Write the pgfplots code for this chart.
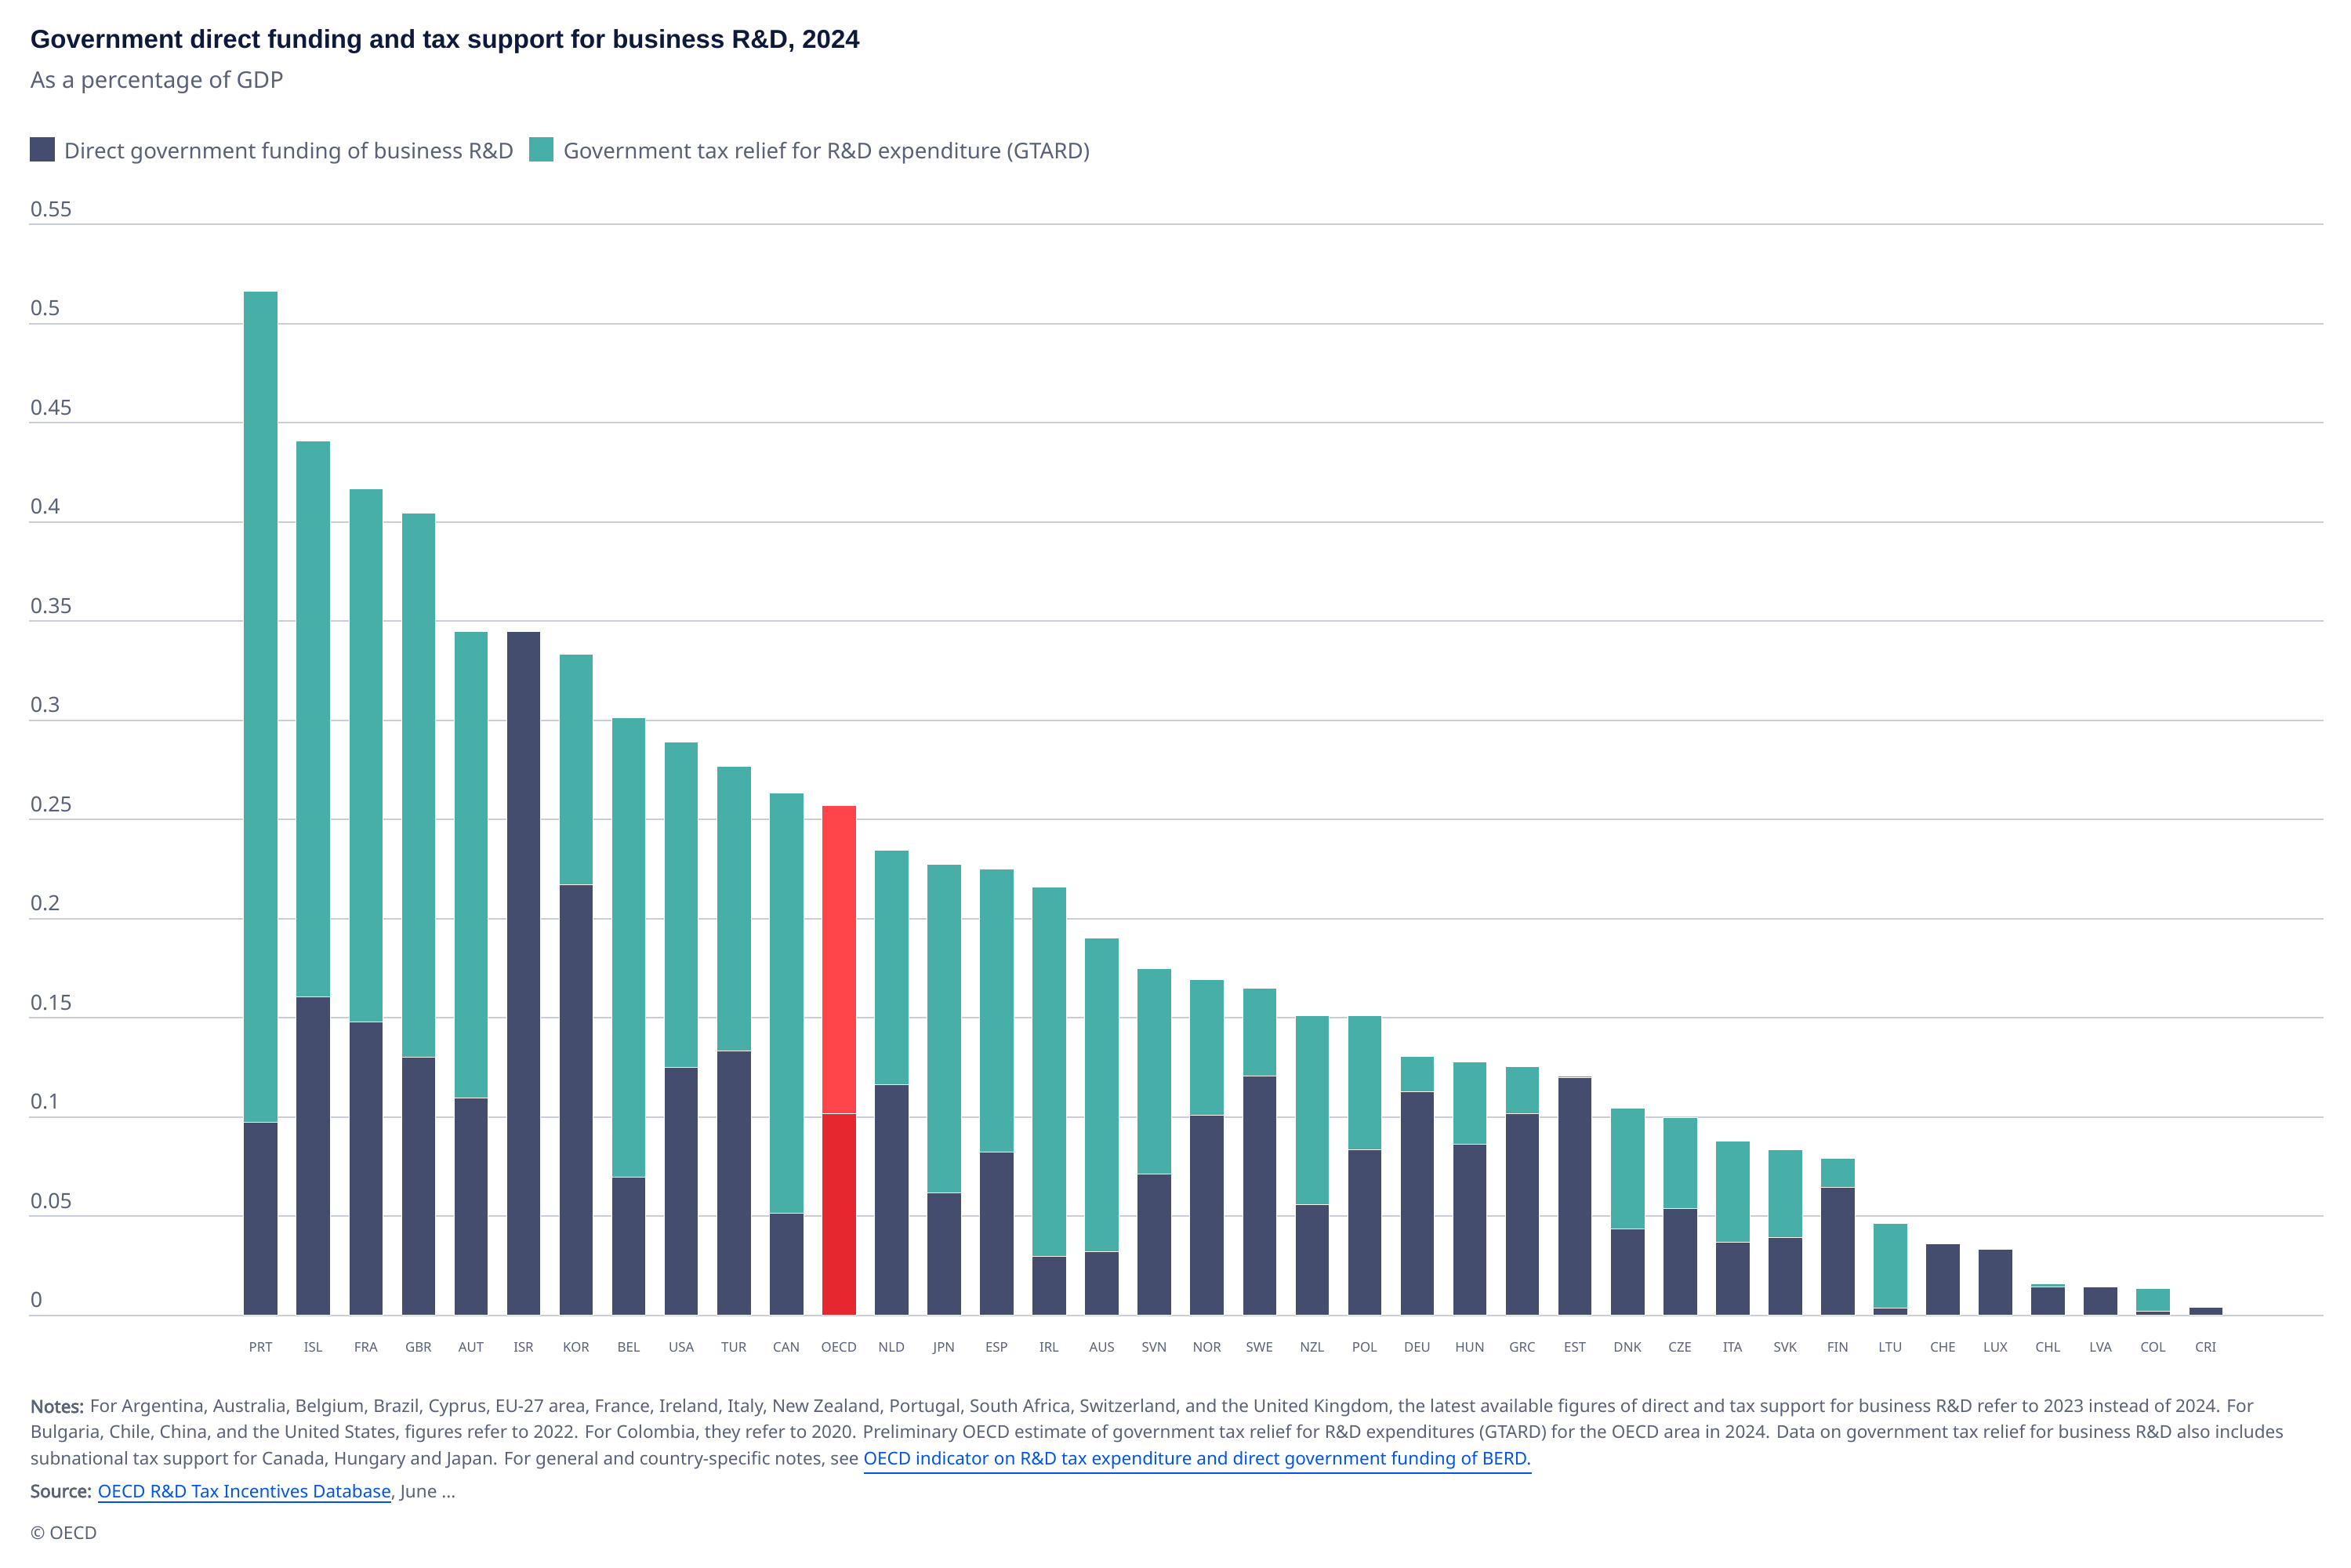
\documentclass[border=0pt]{standalone}
\usepackage{fontspec}
\setmainfont{Noto Sans}[BoldFont={Noto Sans}, BoldFeatures={FakeBold=3}]
\newfontfamily\titlefont{Liberation Sans}
\usepackage{pgfplots}
\usepackage{pgfplotstable}
\pgfplotsset{compat=1.18}
\definecolor{dirc}{HTML}{444D6E}
\definecolor{taxc}{HTML}{47AFA7}
\definecolor{oecdd}{HTML}{E5282F}
\definecolor{oecdt}{HTML}{FF444A}
\definecolor{gridc}{HTML}{C9CED9}
\definecolor{txtc}{HTML}{586179}
\definecolor{titc}{HTML}{0E1A3C}
\definecolor{linkc}{HTML}{0055E6}
\pgfplotstableread{
x lab dir tax od ot
0 PRT 0.0974 0.4190 0 0
1 ISL 0.1605 0.2802 0 0
2 FRA 0.1480 0.2687 0 0
3 GBR 0.1300 0.2743 0 0
4 AUT 0.1096 0.2353 0 0
5 ISR 0.3449 0.0000 0 0
6 KOR 0.2173 0.1159 0 0
7 BEL 0.0698 0.2316 0 0
8 USA 0.1249 0.1640 0 0
9 TUR 0.1335 0.1432 0 0
10 CAN 0.0516 0.2119 0 0
11 OECD 0 0 0.1017 0.1555
12 NLD 0.1163 0.1182 0 0
13 JPN 0.0618 0.1654 0 0
14 ESP 0.0823 0.1429 0 0
15 IRL 0.0300 0.1859 0 0
16 AUS 0.0321 0.1581 0 0
17 SVN 0.0712 0.1037 0 0
18 NOR 0.1011 0.0681 0 0
19 SWE 0.1206 0.0442 0 0
20 NZL 0.0560 0.0950 0 0
21 POL 0.0835 0.0675 0 0
22 DEU 0.1127 0.0180 0 0
23 HUN 0.0865 0.0413 0 0
24 GRC 0.1017 0.0239 0 0
25 EST 0.1199 0.0008 0 0
26 DNK 0.0436 0.0609 0 0
27 CZE 0.0539 0.0457 0 0
28 ITA 0.0370 0.0508 0 0
29 SVK 0.0393 0.0442 0 0
30 FIN 0.0647 0.0144 0 0
31 LTU 0.0037 0.0427 0 0
32 CHE 0.0362 0 0 0
33 LUX 0.0333 0 0 0
34 CHL 0.0146 0.0013 0 0
35 LVA 0.0144 0 0 0
36 COL 0.0022 0.0116 0 0
37 CRI 0.0043 0 0 0
}\datatable
\begin{document}
\begin{tikzpicture}
\useasboundingbox (0,0) rectangle (749.75bp,500bp);
\begin{axis}[
  at={(9.25bp,80.5bp)}, anchor=south west,
  width=731.75bp, height=348bp, scale only axis,
  ybar stacked, bar width=0.65,
  xmin=-4.41, xmax=39.24, ymin=0, ymax=0.55,
  axis line style={draw=none},
  major tick length=0pt,
  tick style={draw=none},
  ymajorgrids, grid style={gridc, line width=0.5bp},
  xtick=data,
  xticklabels from table={\datatable}{lab},
  ytick={0,0.05,0.1,0.15,0.2,0.25,0.3,0.35,0.4,0.45,0.5,0.55},
  yticklabels={0,0.05,0.1,0.15,0.2,0.25,0.3,0.35,0.4,0.45,0.5,0.55},
  yticklabel style={anchor=base west, inner sep=0pt, xshift=0.25bp, yshift=2.5bp, font=\fontsize{6.7bp}{8bp}\selectfont, text=txtc},
  xticklabel style={font=\fontsize{4.2bp}{5bp}\selectfont, text=txtc, anchor=north, inner sep=0pt, yshift=-8.5bp},
]
\addplot[fill=dirc, draw=white, line width=0.25bp] table[x=x,y=dir]{\datatable};
\addplot[fill=taxc, draw=white, line width=0.25bp] table[x=x,y=tax]{\datatable};
\addplot[fill=oecdd, draw=white, line width=0.25bp] table[x=x,y=od]{\datatable};
\addplot[fill=oecdt, draw=white, line width=0.25bp] table[x=x,y=ot]{\datatable};
\end{axis}
% title and subtitle
\node[anchor=base west, inner sep=0pt, text=titc] at (9.5bp,484.5bp) {\titlefont\bfseries\fontsize{8.25bp}{9bp}\selectfont Government direct funding and tax support for business R\&D, 2024};
\node[anchor=base west, inner sep=0pt, text=txtc] at (9.5bp,471.75bp) {\fontsize{7.3bp}{8bp}\selectfont As a percentage of GDP};
% legend
\fill[dirc] (9.5bp,448.5bp) rectangle (17.5bp,456.25bp);
\node[anchor=base west, inner sep=0pt, text=txtc] at (20.25bp,449.25bp) {\fontsize{6.93bp}{8bp}\selectfont Direct government funding of business R\&D};
\fill[taxc] (168.75bp,448.5bp) rectangle (176.5bp,456.25bp);
\node[anchor=base west, inner sep=0pt, text=txtc] at (179.5bp,449.25bp) {\fontsize{6.93bp}{8bp}\selectfont Government tax relief for R\&D expenditure (GTARD)};
% notes
\begin{scope}[every node/.style={anchor=base west, inner sep=0pt, text=txtc, font=\fontsize{5.63bp}{6bp}\selectfont}]
\node at (9.5bp,49.5bp) {\textbf{Notes:} For Argentina, Australia, Belgium, Brazil, Cyprus, EU-27 area, France, Ireland, Italy, New Zealand, Portugal, South Africa, Switzerland, and the United Kingdom, the latest available figures of direct and tax support for business R\&D refer to 2023 instead of 2024. For};
\node at (9.5bp,41.25bp) {Bulgaria, Chile, China, and the United States, figures refer to 2022. For Colombia, they refer to 2020. Preliminary OECD estimate of government tax relief for R\&D expenditures (GTARD) for the OECD area in 2024. Data on government tax relief for business R\&D also includes};
\node at (9.5bp,33bp) {subnational tax support for Canada, Hungary and Japan. For general and country-specific notes, see \textcolor{linkc}{\underline{OECD indicator on R\&D tax expenditure and direct government funding of BERD.}}};
\node at (9.5bp,22.5bp) {\textbf{Source:} \textcolor{linkc}{\underline{OECD R\&D Tax Incentives Database}}, June ...};
\node at (9.5bp,9.25bp) {© OECD};
\end{scope}
\end{tikzpicture}
\end{document}
